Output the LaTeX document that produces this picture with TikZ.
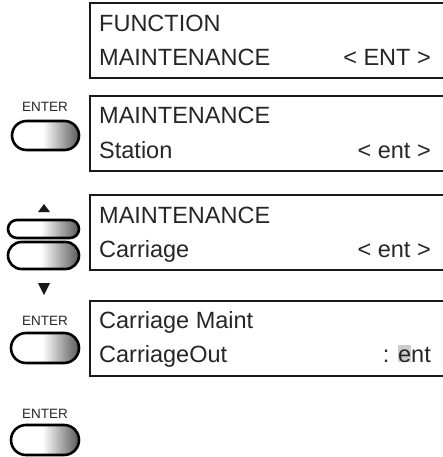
\documentclass[tikz,border=0pt]{standalone}
\usepackage{fontspec}
\setmainfont{Liberation Sans}
\usetikzlibrary{shapes.misc}
\pgfdeclarehorizontalshading{btnshade}{100bp}{color(0bp)=(white); color(25bp)=(white); color(48bp)=(white); color(75bp)=(black!65); color(100bp)=(black!65)}
\tikzset{
  lcdbox/.style={draw=black!90, line width=2.2pt, anchor=north west, inner sep=0pt, outer sep=0pt, minimum width=380pt, minimum height=75pt},
  lcdtext/.style={anchor=base west, inner sep=0pt, font=\fontsize{23.5}{27}\selectfont, text=black!85},
  lcdright/.style={anchor=base east, inner sep=0pt, font=\fontsize{23.5}{27}\selectfont, text=black!85},
  keylabel/.style={anchor=base, inner sep=0pt, font=\fontsize{13.5}{15}\selectfont, text=black!85},
  keybtn/.style={rounded rectangle, draw=black, line width=2.6pt, shading=btnshade, inner sep=0pt, outer sep=0pt},
  arrowtri/.style={fill=black!90}
}
\begin{document}
\begin{tikzpicture}[x=1pt,y=-1pt]
\useasboundingbox (0,0) rectangle (443,457);
\clip (0,0) rectangle (443,457);

% LCD boxes
\node[lcdbox] (b1) at (90,3) {};
\node[lcdbox] (b2) at (90,96) {};
\node[lcdbox] (b3) at (90,195) {};
\node[lcdbox] (b4) at (90,301) {};

% box 1
\node[lcdtext] (t1a) at (99,32) {FUNCTION};
\node[lcdtext] (t1b) at (99,66) {MAINTENANCE};
\node[lcdright] (r1) at (431,66) {< ENT >};
% box 2
\node[lcdtext] (t2a) at (99,124) {MAINTENANCE};
\node[lcdtext] (t2b) at (99,158) {Station};
\node[lcdright] (r2) at (431,158) {< ent >};
% box 3
\node[lcdtext] (t3a) at (99,223) {MAINTENANCE};
\node[lcdtext] (t3b) at (99,257) {Carriage};
\node[lcdright] (r3) at (431,257) {< ent >};
% box 4
\node[lcdtext] (t4a) at (99,328) {Carriage Maint};
\node[lcdtext] (t4b) at (99,362) {CarriageOut};
\node[lcdright] (r4) at (431,362) {: {\setlength{\fboxsep}{0pt}\colorbox{black!20}{\rule{0pt}{0.72em}e}}nt};

% keys
\node[keylabel] (l1) at (45,112) {ENTER};
\node[keybtn, minimum width=67pt, minimum height=29pt] (k1) at (45.5,135.5) {};

\fill[arrowtri] (38,212) -- (50,212) -- (44,204) -- cycle;
\node[keybtn, minimum width=71pt, minimum height=18pt] (kup) at (43.5,229) {};
\node[keybtn, minimum width=71pt, minimum height=27pt] (kdn) at (43.5,255.5) {};
\fill[arrowtri] (38,283) -- (50,283) -- (44,295) -- cycle;

\node[keylabel] (l2) at (45,325) {ENTER};
\node[keybtn, minimum width=68pt, minimum height=30pt] (k2) at (45,348) {};

\node[keylabel] (l3) at (45,418) {ENTER};
\node[keybtn, minimum width=68pt, minimum height=30pt] (k3) at (45,440) {};
\end{tikzpicture}
\end{document}
